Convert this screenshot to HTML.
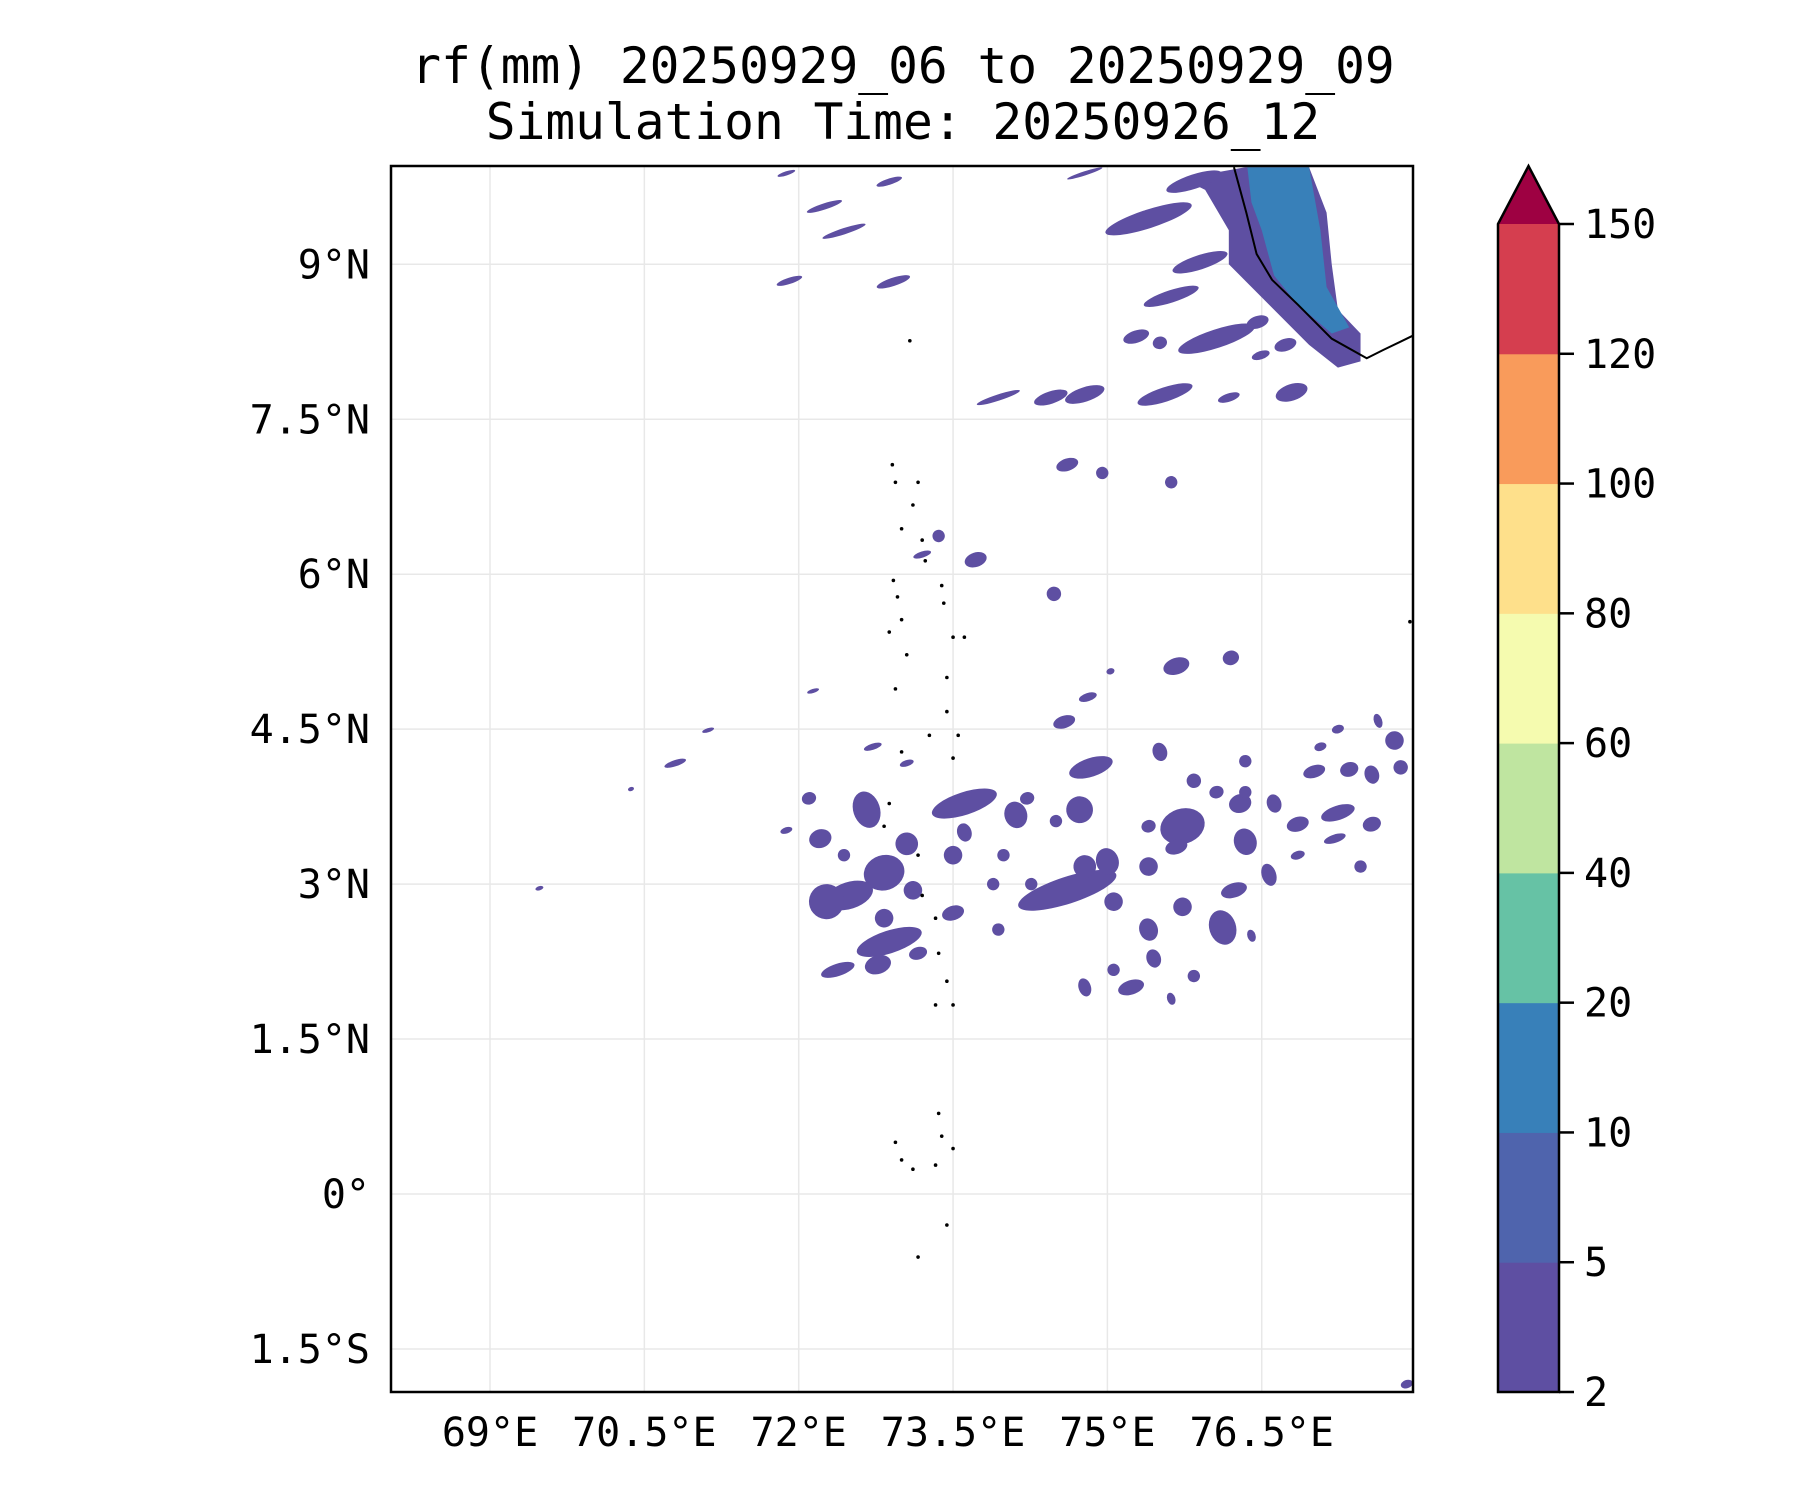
<!DOCTYPE html>
<html><head><meta charset="utf-8"><style>
html,body{margin:0;padding:0;background:#fff;}
svg{display:block;font-family:"DejaVu Sans Mono","Liberation Mono",monospace;}
</style></head><body>
<svg id="chart" width="1800" height="1500" viewBox="0 0 1800 1500" xmlns="http://www.w3.org/2000/svg">
<text x="903" y="83" font-size="49.5" text-anchor="middle">rf(mm) 20250929_06 to 20250929_09</text>
<text x="903" y="139" font-size="49.5" text-anchor="middle">Simulation Time: 20250926_12</text>
<defs><clipPath id="pc"><rect x="391" y="166" width="1022" height="1226"/></clipPath></defs>
<g id="grid"></g>
<g id="rain" clip-path="url(#pc)"></g>
<g id="land" clip-path="url(#pc)"></g>
<rect x="391" y="166" width="1022" height="1226" fill="none" stroke="#000" stroke-width="2.5"/>
<g id="ticks"></g>
<g id="cbar"></g>
</svg>
<script>
const lonTicks=[69,70.5,72,73.5,75,76.5];
const lonLabels=["69°E","70.5°E","72°E","73.5°E","75°E","76.5°E"];
const latTicks=[9,7.5,6,4.5,3,1.5,0,-1.5];
const latLabels=["9°N","7.5°N","6°N","4.5°N","3°N","1.5°N","0°","1.5°S"];
const levels=[2,5,10,20,40,60,80,100,120,150];
const levelColors=["#5e4fa2","#4f64ad","#3880b9","#66c2a5","#bfe5a0","#f5fbaf","#fee08b","#f99b5b","#d53e4f"];
const extendColor="#9e0142";
// Kerala rain polygons (lon,lat)
const keralaOuterLon=[75.73,76.34,76.96,77.13,77.18,77.24,77.46,77.46,77.24,76.96,76.62,76.40,76.18,76.18,75.95];
const keralaOuterLat=[9.83,9.94,9.94,9.50,9.00,8.56,8.33,8.06,8.00,8.22,8.56,8.78,9.00,9.33,9.72];
const keralaInnerLon=[76.36,76.96,77.07,77.13,77.35,77.18,76.85,76.62,76.50,76.40];
const keralaInnerLat=[9.94,9.94,9.33,8.78,8.39,8.33,8.61,8.89,9.33,9.60];
const coastLon=[76.23,76.35,76.45,76.60,76.85,77.18,77.52,77.68,77.97];
const coastLat=[9.94,9.50,9.10,8.85,8.61,8.28,8.09,8.17,8.31];
// small rain cells: centre lon/lat, semi-axes (deg)
const cellLon=[71.88,72.88,72.25,72.44,71.91,72.92,74.78,75.40,75.84,75.90,75.62,76.06,75.28,75.51,76.46,76.73,76.49,76.79,73.94,74.45,74.78,75.56,76.18,74.61,74.95,75.62,73.36,73.20,73.72,74.48,75.67,76.20,74.81,74.58,75.03,72.14,70.80,71.12,72.66,72.83,72.49,72.88,73.61,72.72,73.05,74.84,74.73,74.11,74.22,74.61,74.78,75.00,75.40,75.73,75.67,76.34,76.29,76.57,76.85,77.24,77.21,77.57,77.79,77.85,75.51,76.34,76.62,77.01,77.35,77.57,77.07,77.24,77.63,75.84,76.06,76.34,72.21,72.27,73.50,73.50,73.89,75.06,75.40,75.73,76.12,76.23,75.84,75.45,75.23,74.78,75.06,75.62,76.40,76.85,77.46,75.40,73.61,73.05,73.11,72.38,72.77,73.16,72.83,72.10,71.88,72.44,73.99,74.26,73.94,74.50,69.48,70.37,77.91];
const cellLat=[9.88,9.80,9.56,9.32,8.84,8.83,9.88,9.44,9.80,9.02,8.69,8.28,8.30,8.24,8.44,8.22,8.12,7.76,7.71,7.71,7.74,7.74,7.71,7.06,6.98,6.89,6.37,6.19,6.14,5.81,5.11,5.19,4.81,4.57,5.06,4.87,4.17,4.49,3.72,3.11,2.89,2.44,3.78,4.33,4.17,4.13,3.72,3.67,3.83,2.94,3.17,3.22,3.17,3.56,3.36,3.41,3.78,3.09,3.58,3.69,3.44,3.58,4.39,4.13,4.28,4.19,3.78,4.09,4.11,4.06,4.33,4.50,4.58,4.00,3.89,3.89,3.44,2.83,3.28,2.72,3.00,2.83,2.56,2.78,2.58,2.94,2.11,2.28,2.00,2.00,2.17,1.89,2.50,3.28,3.17,3.56,3.50,3.39,2.94,2.17,2.22,2.33,2.67,3.83,3.52,3.28,3.28,3.00,2.56,3.61,2.96,3.92,-1.84];
const cellA=[.09,.13,.18,.22,.13,.17,.18,.44,.28,.28,.28,.39,.13,.07,.11,.11,.09,.16,.22,.17,.2,.28,.11,.11,.06,.06,.06,.09,.11,.07,.13,.08,.09,.11,.04,.06,.11,.06,.13,.2,.24,.33,.33,.09,.07,.22,.13,.11,.07,.5,.11,.11,.09,.22,.11,.11,.11,.07,.11,.17,.11,.09,.09,.07,.07,.06,.07,.11,.09,.07,.06,.06,.04,.07,.07,.06,.11,.17,.09,.11,.06,.09,.09,.09,.13,.13,.06,.07,.13,.06,.06,.04,.04,.07,.06,.07,.07,.11,.09,.17,.13,.09,.09,.07,.06,.06,.06,.06,.06,.06,.04,.03,.06];
const cellB=[.02,.03,.03,.03,.03,.04,.02,.09,.07,.07,.06,.09,.06,.06,.06,.06,.04,.08,.03,.06,.07,.07,.04,.06,.06,.06,.06,.03,.07,.07,.08,.07,.04,.06,.03,.02,.03,.02,.18,.17,.13,.11,.11,.03,.03,.09,.13,.13,.06,.13,.11,.13,.09,.17,.07,.13,.09,.11,.07,.07,.04,.07,.09,.07,.09,.06,.09,.06,.07,.09,.04,.04,.07,.07,.06,.06,.09,.17,.09,.07,.06,.09,.11,.09,.17,.07,.06,.09,.07,.09,.06,.06,.06,.04,.06,.06,.09,.11,.09,.06,.09,.06,.09,.06,.03,.06,.06,.06,.06,.06,.02,.02,.04];
const islandLon=[72.91,72.94,73.16,73.11,73.00,73.20,73.23,72.92,72.96,73.00,73.39,73.41,73.50,73.61,72.88,73.05,72.94,73.44,73.44,73.55,73.50,73.00,72.88,72.83,73.16,73.20,73.33,73.36,73.44,73.50,73.33,73.27,73.36,73.39,73.50,72.94,73.00,73.11,73.33,73.16,73.08,73.44,77.94];
const islandLat=[7.06,6.89,6.89,6.67,6.44,6.33,6.13,5.94,5.78,5.56,5.89,5.72,5.39,5.39,5.44,5.22,4.89,5.00,4.67,4.44,4.22,4.28,3.78,3.56,3.28,2.89,2.67,2.33,2.06,1.83,1.83,4.44,0.78,0.56,0.44,0.50,0.33,0.24,0.28,-0.61,8.26,-0.30,5.54];

const NS="http://www.w3.org/2000/svg";
const X=lon=>490+(lon-69)*102.9;
const Y=lat=>1194-lat*103.3;
function mk(tag,attrs,parent){const e=document.createElementNS(NS,tag);for(const k in attrs)e.setAttribute(k,attrs[k]);parent.appendChild(e);return e;}
const grid=document.getElementById('grid'),rain=document.getElementById('rain'),land=document.getElementById('land'),ticks=document.getElementById('ticks'),cbar=document.getElementById('cbar');
lonTicks.forEach((v,i)=>{
  const l=mk('line',{x1:X(v),x2:X(v),y1:166,y2:1392,stroke:'#e8e8e8','stroke-width':1.5},grid);
  
  
  const t=mk('text',{x:X(v),y:1446,'font-size':40,'text-anchor':'middle'},ticks);t.textContent=lonLabels[i];
  
  
});
latTicks.forEach((v,i)=>{
  const l=mk('line',{x1:391,x2:1413,y1:Y(v),y2:Y(v),stroke:'#e8e8e8','stroke-width':1.5},grid);
  
  
  const t=mk('text',{x:370,y:Y(v)+14,'font-size':40,'text-anchor':'end'},ticks);t.textContent=latLabels[i];
  
  
});
function poly(lons,lats,fill,name){
  const p=mk('polygon',{points:lons.map((v,i)=>X(v)+','+Y(lats[i])).join(' '),fill:fill,'stroke-linejoin':'round'},rain);
  
  
}
poly(keralaOuterLon,keralaOuterLat,levelColors[0],'kerala-rain-2-5');
poly(keralaInnerLon,keralaInnerLat,levelColors[2],'kerala-rain-10-20');
cellLon.forEach((v,i)=>{
  const cx=X(v),cy=Y(cellLat[i]);
  const e=mk('ellipse',{cx:cx,cy:cy,rx:cellA[i]*102.9,ry:cellB[i]*103.3,fill:levelColors[0],transform:`rotate(-18 ${cx} ${cy})`},rain);
  
  
});
const coast=mk('polyline',{points:coastLon.map((v,i)=>X(v)+','+Y(coastLat[i])).join(' '),fill:'none',stroke:'#000','stroke-width':2},land);


islandLon.forEach((v,i)=>{
  const c=mk('circle',{cx:X(v),cy:Y(islandLat[i]),r:1.8,fill:'#000'},land);
  
  
});
// colorbar
const cbX=1498,cbW=61,cbTop=224,cbBot=1392,step=(cbBot-cbTop)/(levels.length-1);
const CY=i=>cbBot-i*step;
levelColors.forEach((c,i)=>{
  const r=mk('rect',{x:cbX,y:CY(i+1),width:cbW,height:step+0.5,fill:c},cbar);
  
  
});
const tri=mk('polygon',{points:`${cbX},${cbTop} ${cbX+cbW/2},166 ${cbX+cbW},${cbTop}`,fill:extendColor},cbar);


const outline=mk('polygon',{points:`${cbX},${cbTop} ${cbX+cbW/2},166 ${cbX+cbW},${cbTop} ${cbX+cbW},${cbBot} ${cbX},${cbBot}`,fill:'none',stroke:'#000','stroke-width':2.5},cbar);


levels.forEach((v,i)=>{
  mk('line',{x1:cbX+cbW,x2:cbX+cbW+15,y1:CY(i),y2:CY(i),stroke:'#000','stroke-width':2.5},cbar);
  const t=mk('text',{x:cbX+cbW+25,y:CY(i)+14,'font-size':40},cbar);t.textContent=v;
  
  
});
</script>
</body></html>
